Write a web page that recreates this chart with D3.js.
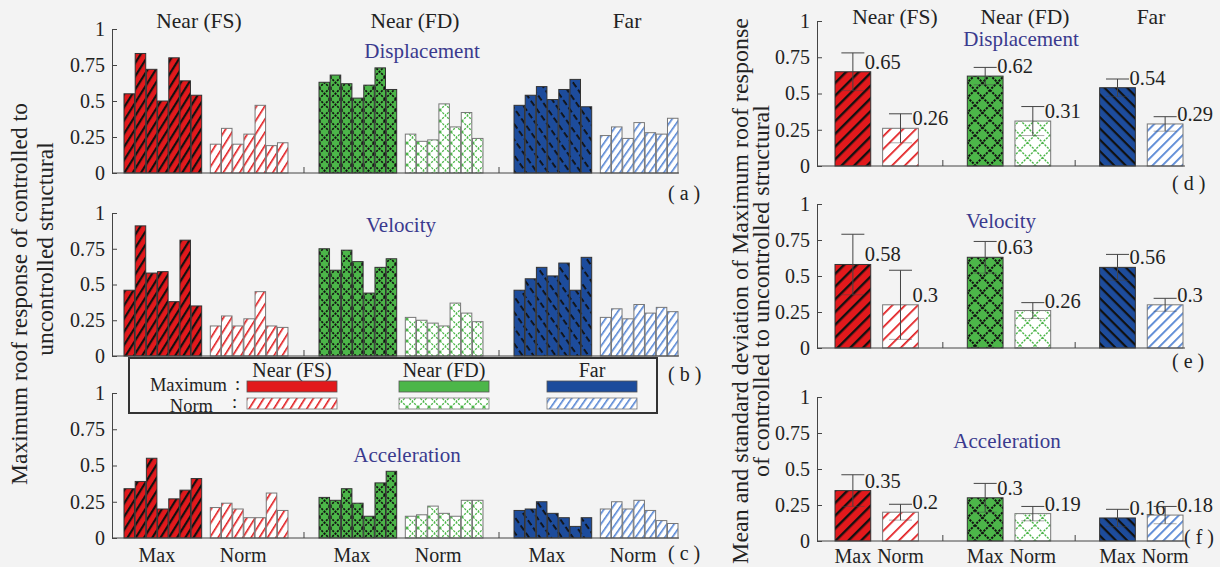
<!DOCTYPE html>
<html>
<head>
<meta charset="utf-8">
<script src="https://cdn.jsdelivr.net/npm/d3@7"></script>
<style>
body{margin:0;background:#f3f3f3;}
svg text{font-family:"Liberation Serif","Times New Roman","DejaVu Serif",serif;fill:#222;}
</style>
</head>
<body>
<svg id="chart"></svg>
<script>
// categories
var groups = ["Near (FS)", "Near (FD)", "Far"];
var kinds = ["Max", "Norm"];
var quantities = ["Displacement", "Velocity", "Acceleration"];
var yTicks = [0, 0.25, 0.5, 0.75, 1];

// left panels: 7 records per group
var dispMax = [[0.55,0.83,0.72,0.50,0.80,0.64,0.54],[0.63,0.68,0.62,0.52,0.61,0.73,0.58],[0.47,0.54,0.60,0.51,0.58,0.65,0.46]];
var dispNorm = [[0.20,0.31,0.20,0.27,0.47,0.19,0.21],[0.27,0.22,0.23,0.48,0.32,0.42,0.24],[0.26,0.32,0.24,0.35,0.28,0.27,0.38]];
var velMax = [[0.46,0.91,0.58,0.59,0.38,0.81,0.35],[0.75,0.60,0.74,0.66,0.44,0.62,0.68],[0.46,0.54,0.62,0.56,0.65,0.46,0.69]];
var velNorm = [[0.21,0.28,0.21,0.26,0.45,0.21,0.20],[0.27,0.25,0.23,0.21,0.37,0.30,0.24],[0.27,0.33,0.26,0.36,0.30,0.34,0.31]];
var accMax = [[0.34,0.39,0.55,0.20,0.27,0.33,0.41],[0.28,0.26,0.34,0.24,0.15,0.38,0.46],[0.19,0.20,0.25,0.17,0.14,0.08,0.14]];
var accNorm = [[0.21,0.24,0.20,0.14,0.14,0.31,0.19],[0.15,0.16,0.22,0.17,0.15,0.26,0.26],[0.20,0.25,0.20,0.26,0.19,0.12,0.10]];

// right panels: mean and standard deviation [Max, Norm]
var dispMean = [[0.65,0.26],[0.62,0.31],[0.54,0.29]];
var dispSd = [[0.13,0.10],[0.06,0.10],[0.06,0.05]];
var velMean = [[0.58,0.3],[0.63,0.26],[0.56,0.3]];
var velSd = [[0.21,0.24],[0.11,0.055],[0.09,0.045]];
var accMean = [[0.35,0.2],[0.3,0.19],[0.16,0.18]];
var accSd = [[0.11,0.055],[0.10,0.05],[0.06,0.06]];

var W = 1220, H = 567;
var FONT = '"Liberation Serif", "Times New Roman", "DejaVu Serif", serif';
var svg = d3.select('#chart').attr('width', W).attr('height', H).attr('font-family', FONT);
svg.append('rect').attr('width', W).attr('height', H).attr('fill', '#f3f3f3');
var defs = svg.append('defs');

var red = '#e2191c', green = '#4cb649', blue = '#1d4c9c', lblue = '#5585d4', titleBlue = '#3a3a8e', axisCol = '#444';

// hatch patterns
function stripe(id, size, thick, angle, bg, fg, dash){
    var p = defs.append('pattern').attr('id', id).attr('patternUnits', 'userSpaceOnUse')
        .attr('width', size).attr('height', size).attr('patternTransform', 'rotate(' + angle + ')');
    p.append('rect').attr('width', size).attr('height', size).attr('fill', bg);
    p.append('rect').attr('width', dash ? dash : size).attr('height', thick).attr('fill', fg);
}
function cross(id, size, bg, fg, sw){
    var p = defs.append('pattern').attr('id', id).attr('patternUnits', 'userSpaceOnUse')
        .attr('width', size).attr('height', size);
    p.append('rect').attr('width', size).attr('height', size).attr('fill', bg);
    p.append('path').attr('d', 'M0,0L' + size + ',' + size + 'M' + size + ',0L0,' + size)
        .attr('stroke', fg).attr('stroke-width', sw).attr('stroke-dasharray', '2.2,1.2').attr('fill', 'none');
}
// left (small bars)
stripe('redMaxL', 7, 2.2, -58, red, '#111');
stripe('redNormL', 7, 1.6, -58, '#fff', red);
cross('greenMaxL', 11, green, '#111', 1.7);
cross('greenNormL', 11, '#fff', green, 1.3);
stripe('blueMaxL', 9, 1.8, 55, blue, '#111', 6);
stripe('blueNormL', 6, 1.6, -55, '#fff', lblue, 7);
// right (wide bars)
stripe('redMaxR', 9, 2.4, -45, red, '#111');
stripe('redNormR', 9, 1.7, -45, '#fff', red);
cross('greenMaxR', 15, green, '#111', 2);
cross('greenNormR', 15, '#fff', green, 1.4);
stripe('blueMaxR', 8, 2.2, 45, blue, '#111', 14);
stripe('blueNormR', 7, 1.8, -45, '#fff', lblue, 12);
var patId = [['redMax','redNorm'],['greenMax','greenNorm'],['blueMax','blueNorm']];
var solid = [red, green, blue];

function styleAxis(g){
    g.attr('font-family', FONT).attr('font-size', null);
    g.selectAll('path,line').attr('stroke', axisCol);
    g.selectAll('text').style('font-size', '20px');
}

// ---------- left panels ----------
var gx = d3.scaleBand().domain(groups).range([124, 679]).paddingInner(0.154);
var kx = d3.scaleBand().domain(kinds).range([0, gx.bandwidth() - 1]).paddingInner(0.1);
var bx = d3.scaleBand().domain(d3.range(7)).range([0, kx.bandwidth()]).paddingInner(0.06);

var leftPanels = [
    {max: dispMax, norm: dispNorm, y0: 173, y1: 29, tx: 422, ty: 58, tag: '( a )', tagy: 200},
    {max: velMax, norm: velNorm, y0: 356, y1: 213, tx: 401, ty: 232, tag: '( b )', tagy: 381},
    {max: accMax, norm: accNorm, y0: 538, y1: 393, tx: 407, ty: 462, tag: '( c )', tagy: 560}
];

leftPanels.forEach(function(p, pi){
    var y = d3.scaleLinear().domain([0, 1]).range([p.y0, p.y1]);
    var g = svg.append('g');
    groups.forEach(function(grp, gi){
        kinds.forEach(function(k, ki){
            var vals = ki == 0 ? p.max[gi] : p.norm[gi];
            g.selectAll(null).data(vals).enter().append('rect')
                .attr('x', function(d, i){ return gx(grp) + kx(k) + bx(i); })
                .attr('y', function(d){ return y(d); })
                .attr('width', bx.bandwidth())
                .attr('height', function(d){ return y(0) - y(d); })
                .attr('fill', 'url(#' + patId[gi][ki] + 'L)')
                .attr('stroke', ki == 0 ? '#333' : '#777')
                .attr('stroke-width', 1);
        });
    });
    var ya = g.append('g').attr('transform', 'translate(112,0)')
        .call(d3.axisLeft(y).tickValues(yTicks).tickFormat(function(d){ return String(d); })
            .tickSize(-5).tickSizeOuter(0).tickPadding(7));
    styleAxis(ya);
    g.append('line').attr('x1', 112).attr('x2', gx.range()[1]).attr('y1', y(0)).attr('y2', y(0))
        .attr('stroke', axisCol);
    [1, 2].forEach(function(i){
        var sx = gx(groups[i]) - gx.step() * gx.paddingInner() / 2;
        g.append('line').attr('x1', sx).attr('x2', sx).attr('y1', y(0)).attr('y2', y(0) - 6).attr('stroke', axisCol);
    });
    g.append('text').text(quantities[pi]).attr('x', p.tx).attr('y', p.ty)
        .attr('text-anchor', 'middle').style('font-size', '21px').style('fill', titleBlue);
    g.append('text').text(p.tag).attr('x', 668).attr('y', p.tagy).style('font-size', '20px');
    if (pi == 2) {
        groups.forEach(function(grp){
            kinds.forEach(function(k){
                g.append('text').text(k).attr('x', gx(grp) + kx(k) + kx.bandwidth() / 2 - 6).attr('y', 562)
                    .attr('text-anchor', 'middle').style('font-size', '20px');
            });
        });
    }
});

var leftHeadX = [199, 415, 627];
groups.forEach(function(grp, i){
    svg.append('text').text(grp).attr('x', leftHeadX[i]).attr('y', 28)
        .attr('text-anchor', 'middle').style('font-size', '21.5px');
});

// legend
var lg = svg.append('g');
lg.append('rect').attr('x', 129).attr('y', 358).attr('width', 528).attr('height', 55)
    .attr('fill', '#f5f5f5').attr('stroke', '#333').attr('stroke-width', 2);
lg.append('text').text('Maximum').attr('x', 227).attr('y', 391).attr('text-anchor', 'end').style('font-size', '18.5px');
lg.append('text').text(':').attr('x', 235).attr('y', 390).style('font-size', '18.5px');
lg.append('text').text('Norm').attr('x', 213).attr('y', 412).attr('text-anchor', 'end').style('font-size', '18.5px');
lg.append('text').text(':').attr('x', 232).attr('y', 408).style('font-size', '18.5px');
var legX = [247, 399, 547];
groups.forEach(function(grp, i){
    lg.append('text').text(grp).attr('x', legX[i] + 45).attr('y', 377)
        .attr('text-anchor', 'middle').style('font-size', '20px');
    lg.append('rect').attr('x', legX[i]).attr('y', 381).attr('width', 90).attr('height', 11)
        .attr('fill', solid[i]).attr('stroke', '#555').attr('stroke-width', 0.8);
    lg.append('rect').attr('x', legX[i]).attr('y', 398).attr('width', 90).attr('height', 11)
        .attr('fill', 'url(#' + patId[i][1] + 'L)').attr('stroke', '#777').attr('stroke-width', 0.8);
});

// ---------- right panels ----------
var rgx = d3.scaleBand().domain(groups).range([835, 1183]).paddingInner(0.37);
var rkx = d3.scaleBand().domain(kinds).range([0, rgx.bandwidth()]).paddingInner(0.25);

var rightPanels = [
    {mean: dispMean, sd: dispSd, y0: 166, y1: 21, tx: 1021, ty: 46, tag: '( d )', tagy: 190},
    {mean: velMean, sd: velSd, y0: 348, y1: 204, tx: 1001, ty: 228, tag: '( e )', tagy: 368},
    {mean: accMean, sd: accSd, y0: 541, y1: 397, tx: 1007, ty: 448, tag: '( f )', tagy: 544}
];

rightPanels.forEach(function(p, pi){
    var y = d3.scaleLinear().domain([0, 1]).range([p.y0, p.y1]);
    var g = svg.append('g');
    g.append('text').text(quantities[pi]).attr('x', p.tx).attr('y', p.ty)
        .attr('text-anchor', 'middle').style('font-size', '21px').style('fill', titleBlue);
    groups.forEach(function(grp, gi){
        kinds.forEach(function(k, ki){
            var m = p.mean[gi][ki], s = p.sd[gi][ki];
            var x0 = rgx(grp) + rkx(k), cx = x0 + rkx.bandwidth() / 2;
            g.append('rect').attr('x', x0).attr('y', y(m)).attr('width', rkx.bandwidth())
                .attr('height', y(0) - y(m))
                .attr('fill', 'url(#' + patId[gi][ki] + 'R)')
                .attr('stroke', ki == 0 ? '#333' : '#777').attr('stroke-width', 1);
            g.append('line').attr('x1', cx).attr('x2', cx).attr('y1', y(m - s)).attr('y2', y(m + s))
                .attr('stroke', '#444');
            g.append('line').attr('x1', cx - 11.5).attr('x2', cx + 11.5).attr('y1', y(m + s)).attr('y2', y(m + s))
                .attr('stroke', '#444');
            g.append('line').attr('x1', cx - 11.5).attr('x2', cx + 11.5).attr('y1', y(m - s)).attr('y2', y(m - s))
                .attr('stroke', '#444').attr('stroke-opacity', 0.45);
            g.append('text').text(String(m)).attr('x', cx + 12).attr('y', y(m) - 3).style('font-size', '20.5px');
            if (pi == 2) {
                g.append('text').text(k).attr('x', cx).attr('y', 563)
                    .attr('text-anchor', 'middle').style('font-size', '20px');
            }
        });
    });
    var ya = g.append('g').attr('transform', 'translate(817,0)')
        .call(d3.axisLeft(y).tickValues(yTicks).tickFormat(function(d){ return String(d); })
            .tickSize(-5).tickSizeOuter(0).tickPadding(7));
    styleAxis(ya);
    g.append('line').attr('x1', 817).attr('x2', 1185).attr('y1', y(0)).attr('y2', y(0)).attr('stroke', axisCol);
    [1, 2].forEach(function(i){
        var sx = rgx(groups[i]) - rgx.step() * rgx.paddingInner() / 2;
        g.append('line').attr('x1', sx).attr('x2', sx).attr('y1', y(0)).attr('y2', y(0) - 6).attr('stroke', axisCol);
    });
    g.append('text').text(p.tag).attr('x', pi == 2 ? 1184 : 1172).attr('y', p.tagy).style('font-size', '20px');
});

var rightHeadX = [895, 1025, 1151];
groups.forEach(function(grp, i){
    svg.append('text').text(grp).attr('x', rightHeadX[i]).attr('y', 24)
        .attr('text-anchor', 'middle').style('font-size', '21.5px');
});

// axis titles
svg.append('text').text('Maximum roof response of controlled to')
    .attr('transform', 'translate(27,294) rotate(-90)').attr('text-anchor', 'middle').style('font-size', '23.5px');
svg.append('text').text('uncontrolled structural')
    .attr('transform', 'translate(53,249) rotate(-90)').attr('text-anchor', 'middle').style('font-size', '23.5px');
svg.append('text').text('Mean and standard deviation of Maximum roof response')
    .attr('transform', 'translate(748,291) rotate(-90)').attr('text-anchor', 'middle').style('font-size', '24px');
svg.append('text').text('of controlled to uncontrolled structural')
    .attr('transform', 'translate(769,291) rotate(-90)').attr('text-anchor', 'middle').style('font-size', '24px');
</script>
</body>
</html>
